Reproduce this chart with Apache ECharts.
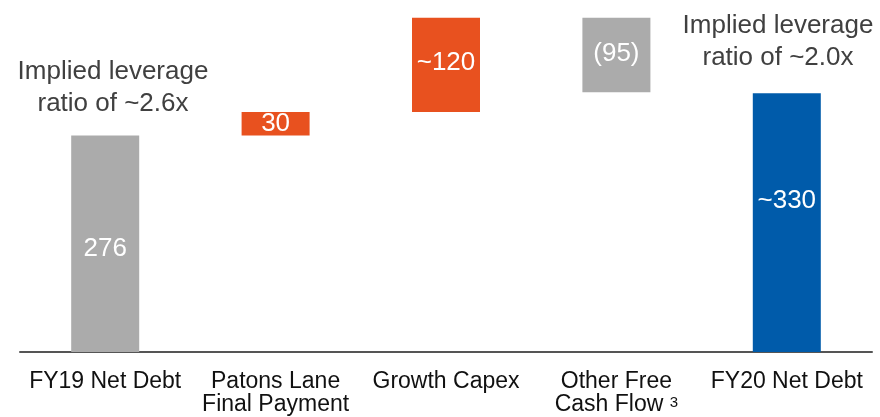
<!DOCTYPE html>
<html>
<head>
<meta charset="utf-8">
<script src="https://cdn.jsdelivr.net/npm/echarts@6/dist/echarts.min.js"></script>
<style>
html,body{margin:0;padding:0;background:#fff;}
#chart{width:880px;height:417px;}
</style>
</head>
<body>
<div id="chart"></div>
<script>
const categories = ['FY19 Net Debt', 'Patons Lane\nFinal Payment', 'Growth Capex', 'Other Free\nCash Flow {sup|3}', 'FY20 Net Debt'];
const baseValues = [0, 276, 306, 331, 0];
const barValues = [276, 30, 120, 95, 330];
const barLabels = ['276', '30', '~120', '(95)', '~330'];
const annotations = ['Implied leverage\nratio of ~2.6x', 'Implied leverage\nratio of ~2.0x'];

const GRAY = '#ABABAB', ORANGE = '#E8511F', BLUE = '#005BAA';
const barColors = [GRAY, ORANGE, ORANGE, GRAY, BLUE];
const labelOffsets = [[0, 5], [0, 0], [0, -2], [0, -1], [0, -22]];

const chart = echarts.init(document.getElementById('chart'), null, {renderer: 'canvas'});
const font = '"Liberation Sans", Arial, sans-serif';

chart.setOption({
  animation: false,
  grid: {left: 20, right: 8, top: 10, bottom: 65},
  xAxis: {
    type: 'category',
    data: categories,
    axisLine: {show: true, lineStyle: {color: '#555555', width: 2}},
    axisTick: {show: false},
    axisLabel: {
      interval: 0,
      color: '#111111',
      fontFamily: font,
      fontSize: 23,
      lineHeight: 23,
      margin: 18,
      rich: {
        sup: {fontSize: 15, fontFamily: font, color: '#111111', padding: [0, 0, 3, 0]}
      }
    }
  },
  yAxis: {
    type: 'value', min: 0, max: 436,
    show: false,
    splitLine: {show: false}
  },
  series: [
    {
      type: 'bar', stack: 'w', barWidth: 68,
      itemStyle: {color: 'transparent'},
      data: baseValues,
      silent: true
    },
    {
      type: 'bar', stack: 'w', barWidth: 68,
      data: barValues.map((v, i) => ({
        value: v,
        itemStyle: {color: barColors[i]},
        label: {
          show: true, position: 'inside', formatter: barLabels[i],
          color: '#ffffff', fontFamily: font, fontSize: 26,
          offset: labelOffsets[i]
        }
      }))
    }
  ],
  graphic: [
    {type: 'text', x: 113, y: 56, style: {text: annotations[0], fill: '#404040', font: '26px ' + font, align: 'center', lineHeight: 32}},
    {type: 'text', x: 778, y: 10, style: {text: annotations[1], fill: '#404040', font: '26px ' + font, align: 'center', lineHeight: 32}}
  ]
});
</script>
</body>
</html>
